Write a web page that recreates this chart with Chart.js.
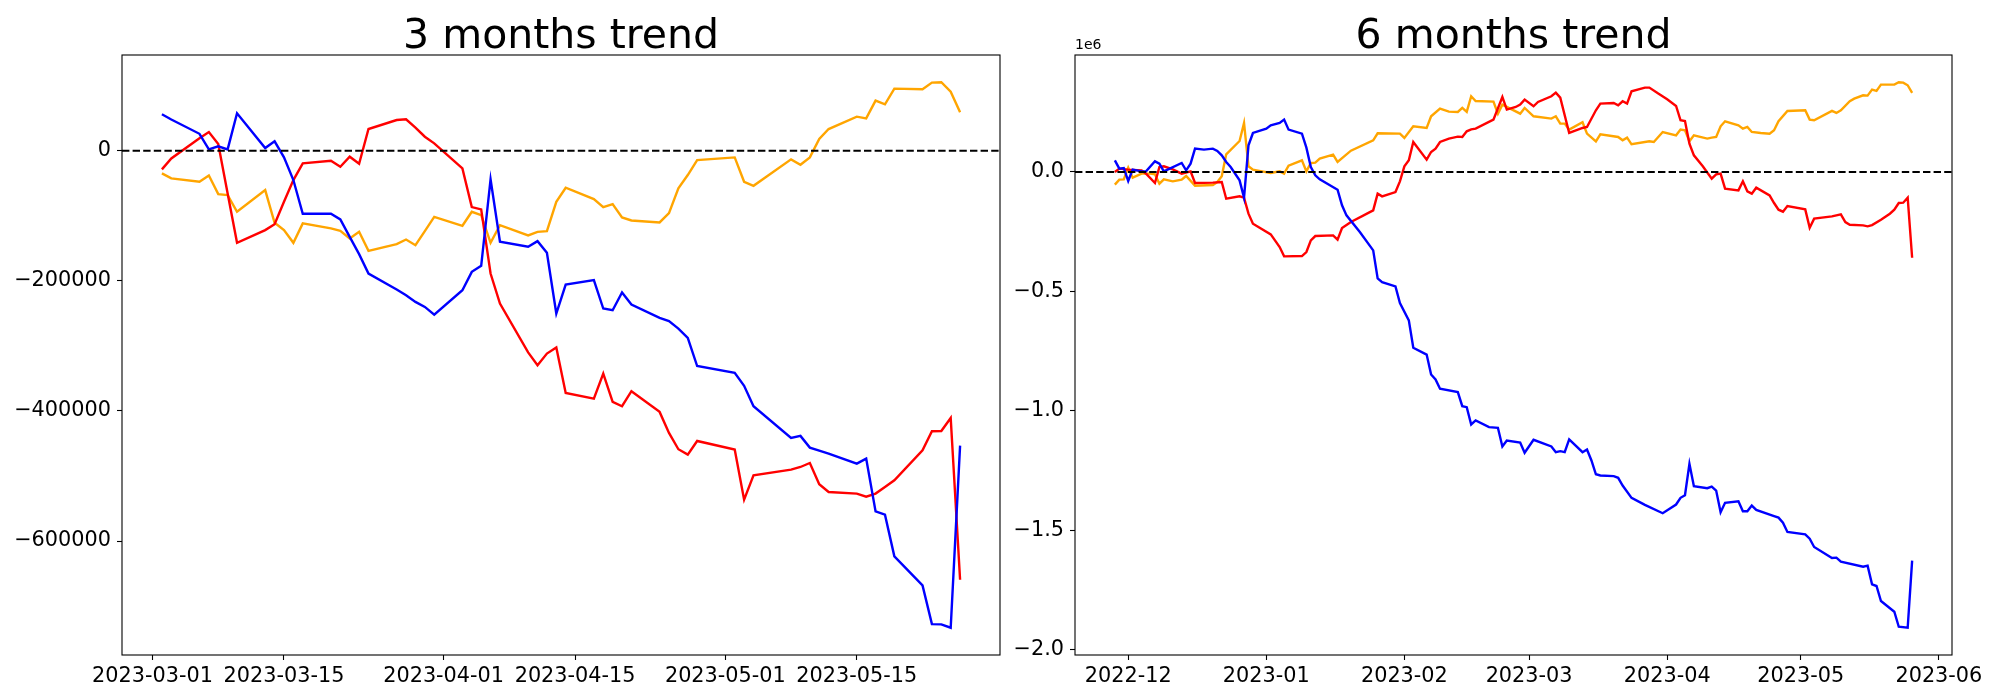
<!DOCTYPE html>
<html lang="en">
<head>
    <meta charset="UTF-8">
    <title>3 and 6 months trend</title>
    <script src="https://cdn.jsdelivr.net/npm/chart.js@4.4.0/dist/chart.umd.min.js"></script>
    <style>
        body {
            margin: 0;
            padding: 0;
            background-color: #ffffff;
            width: 2000px;
            height: 700px;
            position: relative;
            overflow: hidden;
        }

        canvas {
            position: absolute;
            top: 0;
        }

        #chart3m { left: 0; }
        #chart6m { left: 1005px; }
    </style>
</head>
<body>

    <canvas id="chart3m" width="1005" height="700"></canvas>
    <canvas id="chart6m" width="995" height="700"></canvas>

    <script>
        // ---- 3 months data (trading days) ----
        const threeMonthDates = [
            '2023-03-02', '2023-03-03', '2023-03-06', '2023-03-07', '2023-03-08', '2023-03-09', '2023-03-10',
            '2023-03-13', '2023-03-14', '2023-03-15', '2023-03-16', '2023-03-17', '2023-03-20', '2023-03-21',
            '2023-03-22', '2023-03-23', '2023-03-24', '2023-03-27', '2023-03-28', '2023-03-29', '2023-03-30',
            '2023-03-31', '2023-04-03', '2023-04-04', '2023-04-05', '2023-04-06', '2023-04-07', '2023-04-10',
            '2023-04-11', '2023-04-12', '2023-04-13', '2023-04-14', '2023-04-17', '2023-04-18', '2023-04-19',
            '2023-04-20', '2023-04-21', '2023-04-24', '2023-04-25', '2023-04-26', '2023-04-27', '2023-04-28',
            '2023-05-02', '2023-05-03', '2023-05-04', '2023-05-08', '2023-05-09', '2023-05-10', '2023-05-11',
            '2023-05-12', '2023-05-15', '2023-05-16', '2023-05-17', '2023-05-18', '2023-05-19', '2023-05-22',
            '2023-05-23', '2023-05-24', '2023-05-25', '2023-05-26'
        ];
        const threeBlue = [
            56000, 48000, 26000, 2000, 6700, 2000, 57500, 4100, 14400, -10300, -45100, -97000, -97000, -105700,
            -132400, -159000, -188800, -213400, -222100, -232400, -240100, -251900,
            -214400, -186200, -177000, -44100, -140000, -147700, -139000, -157000, -250300, -205700, -199000,
            -242600, -245200, -218000, -236500, -257000, -262000, -273400, -287800, -331000,
            -341500, -361500, -392800, -441500, -438400, -456400, -461100, -465700, -481000, -473300, -554400,
            -559500, -623600, -668200, -727700, -728200, -733300, -453300
        ];
        const threeRed = [
            -28700, -12000, 19000, 28700, 10300, -65700, -141600, -122100, -112900, -78500, -45100, -19500,
            -15400, -24600, -9200, -20000, 33300, 47200, 48200, 35400, 21500, 11300,
            -27200, -86700, -90300, -188800, -235000, -310000, -329700, -311800, -302600, -372300, -381000,
            -342600, -386200, -392800, -369700, -401500, -433800, -458900, -467100, -446200,
            -459500, -536400, -499000, -490300, -486200, -480100, -512800, -524600, -527100, -531800, -527100,
            -517000, -506700, -460500, -431300, -430800, -410800, -659500
        ];
        const threeOrange = [
            -34900, -42600, -47700, -38000, -66700, -68200, -93900, -60500, -110800, -122100, -141600, -111800,
            -119500, -123100, -134900, -124700, -153900, -143600, -136500, -145200, -123600, -101600,
            -115400, -93900, -99000, -141600, -114400, -130300, -124700, -123600, -78500, -56900, -74400,
            -86700, -82100, -102600, -107200, -110300, -95900, -58000, -37400, -14400,
            -10300, -47700, -53900, -13300, -21500, -10300, 18000, 33300, 52300, 49800, 77000,
            71300, 95400, 94400, 104700, 105200, 90800, 59000
        ];
        const threeXTicks = ['2023-03-01', '2023-03-15', '2023-04-01', '2023-04-15', '2023-05-01', '2023-05-15'];
        const threeYTicks = [-600000, -400000, -200000, 0];

        // ---- 6 months data ----
        const sixBlueDates = [
            '2022-11-28', '2022-11-29', '2022-11-30', '2022-12-01', '2022-12-02', '2022-12-04', '2022-12-05',
            '2022-12-07', '2022-12-08', '2022-12-09', '2022-12-13', '2022-12-14', '2022-12-15', '2022-12-16',
            '2022-12-18', '2022-12-20', '2022-12-21', '2022-12-22', '2022-12-23', '2022-12-24', '2022-12-26',
            '2022-12-27', '2022-12-28', '2022-12-29', '2023-01-01', '2023-01-02', '2023-01-04', '2023-01-05',
            '2023-01-06', '2023-01-09', '2023-01-10', '2023-01-11', '2023-01-12', '2023-01-13', '2023-01-17',
            '2023-01-18', '2023-01-19', '2023-01-22', '2023-01-25', '2023-01-26', '2023-01-27', '2023-01-30',
            '2023-01-31', '2023-02-02', '2023-02-03', '2023-02-06', '2023-02-07', '2023-02-08', '2023-02-09',
            '2023-02-13', '2023-02-14', '2023-02-15', '2023-02-16', '2023-02-17', '2023-02-20', '2023-02-22',
            '2023-02-23', '2023-02-24', '2023-02-27', '2023-02-28', '2023-03-02', '2023-03-06', '2023-03-07',
            '2023-03-08', '2023-03-09', '2023-03-10', '2023-03-13', '2023-03-14', '2023-03-15', '2023-03-16',
            '2023-03-17', '2023-03-20', '2023-03-21', '2023-03-22', '2023-03-24', '2023-03-27', '2023-03-31',
            '2023-04-03', '2023-04-04', '2023-04-05', '2023-04-06', '2023-04-07', '2023-04-10', '2023-04-11',
            '2023-04-12', '2023-04-13', '2023-04-14', '2023-04-17', '2023-04-18', '2023-04-19', '2023-04-20',
            '2023-04-21', '2023-04-25', '2023-04-26', '2023-04-27', '2023-04-28', '2023-05-02', '2023-05-03',
            '2023-05-04', '2023-05-08', '2023-05-09', '2023-05-10', '2023-05-15', '2023-05-16', '2023-05-17',
            '2023-05-18', '2023-05-19', '2023-05-22', '2023-05-23', '2023-05-25', '2023-05-26'
        ];
        const sixBlueValues = [
            48900, 14000, 16800, -37700, 9800, 2800, 2800,
            44700, 34900, 2800, 37700, 7000, 34900, 97700,
            93500, 97700, 88000, 69800, 41900, 20900, -34900,
            -107500, 111700, 163300, 181500, 195400, 205200, 219200,
            177300, 160500, 101900, 20900, -14000, -30700, -74000,
            -139600, -181500, -251300, -328100, -445000, -460700, -478800,
            -548600, -621200, -735600, -764200, -847300, -868200, -907200,
            -921400, -980000, -984200, -1056600, -1039900, -1067900, -1070500,
            -1148800, -1123600, -1132000, -1175200, -1120800, -1148800, -1172600,
            -1168400, -1172600, -1119400, -1172600, -1161300, -1207400, -1265000,
            -1270200, -1273000, -1279800, -1312100, -1363700, -1393000, -1428100,
            -1391700, -1363700, -1352800, -1221300, -1315000, -1323400, -1316300,
            -1333100, -1424000, -1384700, -1377900, -1419800, -1419800, -1395900,
            -1414000, -1440000, -1446600, -1467500, -1506400, -1516200, -1534600,
            -1569300, -1615400, -1613900, -1630900, -1651800, -1647600, -1725600,
            -1732700, -1795500, -1840300, -1903100, -1907300, -1626200
        ];
        const sixRedDates = [
            '2022-11-28', '2022-11-29', '2022-12-01', '2022-12-04', '2022-12-05', '2022-12-07', '2022-12-08',
            '2022-12-09', '2022-12-11', '2022-12-13', '2022-12-15', '2022-12-16', '2022-12-20', '2022-12-22',
            '2022-12-23', '2022-12-26', '2022-12-27', '2022-12-28', '2022-12-29', '2023-01-02', '2023-01-04',
            '2023-01-05', '2023-01-09', '2023-01-10', '2023-01-11', '2023-01-12', '2023-01-16', '2023-01-17',
            '2023-01-18', '2023-01-20', '2023-01-25', '2023-01-26', '2023-01-27', '2023-01-30', '2023-01-31',
            '2023-02-01', '2023-02-02', '2023-02-03', '2023-02-06', '2023-02-07', '2023-02-08', '2023-02-09',
            '2023-02-11', '2023-02-13', '2023-02-14', '2023-02-15', '2023-02-16', '2023-02-17', '2023-02-21',
            '2023-02-23', '2023-02-24', '2023-02-26', '2023-02-27', '2023-02-28', '2023-03-02', '2023-03-03',
            '2023-03-06', '2023-03-07', '2023-03-08', '2023-03-10', '2023-03-13', '2023-03-14', '2023-03-16',
            '2023-03-17', '2023-03-20', '2023-03-21', '2023-03-22', '2023-03-23', '2023-03-24', '2023-03-27',
            '2023-03-28', '2023-03-30', '2023-04-01', '2023-04-03', '2023-04-04', '2023-04-05', '2023-04-06',
            '2023-04-07', '2023-04-09', '2023-04-11', '2023-04-12', '2023-04-13', '2023-04-14', '2023-04-17',
            '2023-04-18', '2023-04-19', '2023-04-20', '2023-04-21', '2023-04-24', '2023-04-25', '2023-04-26',
            '2023-04-27', '2023-04-28', '2023-05-02', '2023-05-03', '2023-05-04', '2023-05-08', '2023-05-10',
            '2023-05-11', '2023-05-12', '2023-05-15', '2023-05-16', '2023-05-17', '2023-05-19', '2023-05-21',
            '2023-05-22', '2023-05-23', '2023-05-24', '2023-05-25', '2023-05-26'
        ];
        const sixRedValues = [
            0, 14000, 10000, 7000, -7000, -46100, 20900,
            23700, 11200, -7000, 2800, -46100, -44700, -41900,
            -111700, -101900, -107500, -174500, -216400, -261100, -314100,
            -353200, -351800, -335000, -286200, -268000, -265200, -283400,
            -234500, -209400, -160500, -90700, -101900, -83800, -39100,
            23700, 48900, 125600, 51700, 83800, 97700, 125600,
            139600, 148000, 146600, 170300, 178700, 181500, 219200,
            314100, 261100, 272200, 282000, 302900, 275000, 293200,
            316900, 332200, 311300, 163300, 184300, 188500, 258300,
            286200, 289000, 279200, 296000, 286200, 337800, 353200,
            353200, 328100, 304300, 276400, 216400, 213600, 118700,
            69800, 23700, -27900, -9800, -7000, -69800, -76800,
            -39100, -81000, -90700, -65600, -97700, -129800, -157700,
            -166100, -142400, -156400, -233100, -195400, -185700, -177300,
            -209400, -220600, -223400, -227500, -222000, -199600, -174500,
            -157700, -129800, -128400, -107500, -358800
        ];
        const sixOrangeDates = [
            '2022-11-28', '2022-11-29', '2022-11-30', '2022-12-01', '2022-12-02', '2022-12-04', '2022-12-06',
            '2022-12-07', '2022-12-08', '2022-12-09', '2022-12-11', '2022-12-13', '2022-12-14', '2022-12-16',
            '2022-12-20', '2022-12-21', '2022-12-22', '2022-12-23', '2022-12-26', '2022-12-27', '2022-12-28',
            '2022-12-29', '2022-12-31', '2023-01-02', '2023-01-04', '2023-01-05', '2023-01-06', '2023-01-09',
            '2023-01-10', '2023-01-11', '2023-01-12', '2023-01-13', '2023-01-16', '2023-01-17', '2023-01-20',
            '2023-01-25', '2023-01-26', '2023-01-31', '2023-02-01', '2023-02-03', '2023-02-06', '2023-02-07',
            '2023-02-09', '2023-02-11', '2023-02-13', '2023-02-14', '2023-02-15', '2023-02-16', '2023-02-17',
            '2023-02-21', '2023-02-22', '2023-02-23', '2023-02-27', '2023-02-28', '2023-03-02', '2023-03-06',
            '2023-03-07', '2023-03-08', '2023-03-09', '2023-03-10', '2023-03-13', '2023-03-14', '2023-03-16',
            '2023-03-17', '2023-03-21', '2023-03-22', '2023-03-23', '2023-03-24', '2023-03-28', '2023-03-29',
            '2023-03-31', '2023-04-03', '2023-04-04', '2023-04-05', '2023-04-06', '2023-04-07', '2023-04-10',
            '2023-04-11', '2023-04-12', '2023-04-13', '2023-04-14', '2023-04-17', '2023-04-18', '2023-04-19',
            '2023-04-20', '2023-04-22', '2023-04-24', '2023-04-25', '2023-04-26', '2023-04-28', '2023-05-02',
            '2023-05-03', '2023-05-04', '2023-05-08', '2023-05-09', '2023-05-10', '2023-05-12', '2023-05-13',
            '2023-05-15', '2023-05-16', '2023-05-17', '2023-05-18', '2023-05-19', '2023-05-22', '2023-05-23',
            '2023-05-24', '2023-05-25', '2023-05-26'
        ];
        const sixOrangeValues = [
            -53000, -32100, -30700, 18100, -23700, -7000, -7000,
            -9800, -48900, -30700, -39100, -32100, -16800, -57200,
            -54400, -41900, -18100, 74000, 129800, 205200, 23700,
            9800, 2800, -4200, 2800, -7000, 26500, 48900,
            2800, 37700, 39100, 55800, 72600, 41900, 89300,
            132600, 161900, 160500, 142400, 191300, 184300, 233100,
            265200, 252700, 251300, 268000, 251300, 316900, 297300,
            294600, 244300, 282000, 244300, 268000, 233100, 223400,
            233100, 202400, 202400, 177300, 208000, 160500, 128400,
            157700, 146600, 132600, 143800, 115900, 128400, 125600,
            167500, 153600, 177300, 174500, 128400, 153600, 139600,
            143800, 146600, 191300, 212200, 195400, 181500, 188500,
            167500, 163300, 160500, 174500, 212200, 255500, 258300,
            219200, 216400, 255500, 247100, 258300, 296000, 307100,
            321100, 319700, 344800, 339200, 365800, 365800, 375500,
            374100, 363000, 330900
        ];
        const sixXTicks = ['2022-12-01', '2023-01-01', '2023-02-01', '2023-03-01', '2023-04-01', '2023-05-01', '2023-06-01'];
        const sixYTicks = [-2000000, -1500000, -1000000, -500000, 0];

        const DAY = 86400000;
        const FONT = 'DejaVu Sans';
        Chart.defaults.font.family = FONT;
        Chart.defaults.color = '#000';

        function dayNum(s) {
            const p = s.split('-').map(Number);
            return Date.UTC(p[0], p[1] - 1, p[2]) / DAY;
        }

        function points(dates, values) {
            return dates.map((d, i) => ({ x: dayNum(d), y: values[i] }));
        }

        // matplotlib style 5% margins
        function padRange(lo, hi) {
            const m = (hi - lo) * 0.05;
            return [lo - m, hi + m];
        }

        function minus(str) {
            return str.replace('-', '\u2212');
        }

        const framePlugin = {
            id: 'frame',
            afterDraw(chart, args, opts) {
                const { ctx, chartArea: a } = chart;
                ctx.save();
                ctx.strokeStyle = '#000';
                ctx.lineWidth = 1.1;
                ctx.strokeRect(a.left, a.top, a.right - a.left, a.bottom - a.top);
                if (opts.offsetText) {
                    ctx.font = '14px ' + FONT;
                    ctx.fillStyle = '#000';
                    ctx.textAlign = 'left';
                    ctx.textBaseline = 'bottom';
                    ctx.fillText(opts.offsetText, a.left, a.top - 3);
                }
                ctx.restore();
            }
        };

        function lineSet(data, color) {
            return {
                data: data,
                borderColor: color,
                borderWidth: 2.4,
                pointRadius: 0,
                tension: 0,
                fill: false
            };
        }

        function makeChart(id, cfg) {
            const allX = cfg.series.flatMap(s => s.data.map(p => p.x));
            const allY = cfg.series.flatMap(s => s.data.map(p => p.y));
            const xr = padRange(Math.min(...allX), Math.max(...allX));
            const yr = padRange(Math.min(...allY), Math.max(...allY));
            const xTickVals = cfg.xTicks.map(dayNum);

            const zeroLine = {
                data: [{ x: xr[0], y: 0 }, { x: xr[1], y: 0 }],
                borderColor: '#000',
                borderWidth: 2,
                borderDash: [7.4, 3.2],
                pointRadius: 0,
                fill: false
            };

            const tickGrid = {
                display: true,
                drawOnChartArea: false,
                drawTicks: true,
                tickLength: 5,
                tickWidth: 1.1,
                tickColor: '#000'
            };

            return new Chart(document.getElementById(id), {
                type: 'line',
                data: {
                    datasets: [zeroLine].concat(cfg.series.map(s => lineSet(s.data, s.color)))
                },
                plugins: [framePlugin],
                options: {
                    responsive: false,
                    animation: false,
                    layout: { padding: { left: 0, right: cfg.padRight, top: 0, bottom: 0 } },
                    plugins: {
                        legend: { display: false },
                        tooltip: { enabled: false },
                        title: {
                            display: true,
                            text: cfg.title,
                            fullSize: false,
                            color: '#000',
                            font: { family: FONT, size: 41, weight: 'normal', lineHeight: 0.5 },
                            padding: { top: 26.8, bottom: 7.7 }
                        },
                        frame: { offsetText: cfg.offsetText }
                    },
                    scales: {
                        x: {
                            type: 'linear',
                            min: xr[0],
                            max: xr[1],
                            border: { display: false },
                            grid: tickGrid,
                            afterBuildTicks: scale => {
                                scale.ticks = xTickVals.map(v => ({ value: v }));
                            },
                            afterFit: scale => { scale.height = 45; },
                            ticks: {
                                autoSkip: false,
                                maxRotation: 0,
                                padding: 4,
                                color: '#000',
                                font: { family: FONT, size: 20.8 },
                                callback: (v, i) => cfg.xLabel(cfg.xTicks[i])
                            }
                        },
                        y: {
                            min: yr[0],
                            max: yr[1],
                            border: { display: false },
                            grid: tickGrid,
                            afterBuildTicks: scale => {
                                scale.ticks = cfg.yTicks.map(v => ({ value: v }));
                            },
                            afterFit: scale => { scale.width = cfg.yWidth; },
                            ticks: {
                                padding: 6,
                                color: '#000',
                                font: { family: FONT, size: 20.8 },
                                callback: v => cfg.yLabel(v)
                            }
                        }
                    }
                }
            });
        }

        makeChart('chart3m', {
            title: '3 months trend',
            yWidth: 122,
            padRight: 5,
            xTicks: threeXTicks,
            yTicks: threeYTicks,
            xLabel: s => s,
            yLabel: v => minus(String(v)),
            series: [
                { data: points(threeMonthDates, threeBlue), color: '#0000ff' },
                { data: points(threeMonthDates, threeRed), color: '#ff0000' },
                { data: points(threeMonthDates, threeOrange), color: '#ffa500' }
            ]
        });

        makeChart('chart6m', {
            title: '6 months trend',
            yWidth: 70,
            padRight: 48,
            offsetText: '1e6',
            xTicks: sixXTicks,
            yTicks: sixYTicks,
            xLabel: s => s.slice(0, 7),
            yLabel: v => minus((v / 1e6).toFixed(1)),
            series: [
                { data: points(sixBlueDates, sixBlueValues), color: '#0000ff' },
                { data: points(sixRedDates, sixRedValues), color: '#ff0000' },
                { data: points(sixOrangeDates, sixOrangeValues), color: '#ffa500' }
            ]
        });
    </script>

</body>
</html>
